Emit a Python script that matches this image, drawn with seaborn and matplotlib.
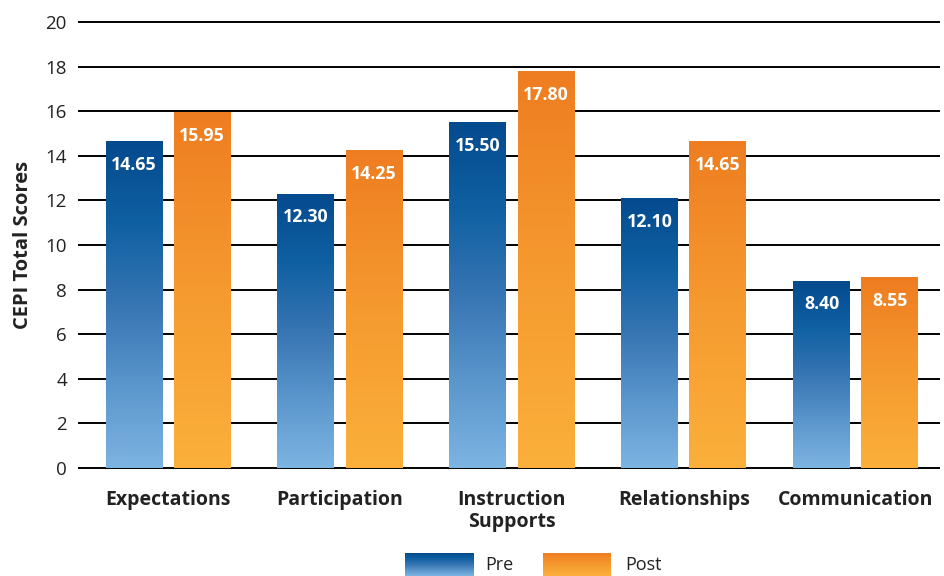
import numpy as np
import pandas as pd
import matplotlib
matplotlib.use("Agg")
import matplotlib.pyplot as plt
from matplotlib.colors import LinearSegmentedColormap
import seaborn as sns

categories = ["Expectations", "Participation", "Instruction\nSupports", "Relationships", "Communication"]
pre_values = [14.65, 12.30, 15.50, 12.10, 8.40]
post_values = [15.95, 14.25, 17.80, 14.65, 8.55]
series_names = ["Pre", "Post"]
y_ticks = [0, 2, 4, 6, 8, 10, 12, 14, 16, 18, 20]

df = pd.DataFrame({
    "category": categories * 2,
    "value": pre_values + post_values,
    "series": [series_names[0]] * len(categories) + [series_names[1]] * len(categories),
})

sns.set_theme(style="white")
plt.rcParams["font.family"] = ["Open Sans", "DejaVu Sans"]

blue_cmap = LinearSegmentedColormap.from_list(
    "blue", [(0.0, "#7cb4e2"), (0.25, "#5b96cc"), (0.5, "#3775b3"), (0.75, "#0f60a2"), (1.0, "#044a8e")])
orange_cmap = LinearSegmentedColormap.from_list(
    "orange", [(0.0, "#fbb03b"), (0.5, "#f59a2f"), (1.0, "#ee7d21")])
cmaps = {"Pre": blue_cmap, "Post": orange_cmap}

fig = plt.figure(figsize=(9.44, 5.76), dpi=100)
ax = fig.add_axes([78 / 944, 1 - 469 / 576, (940 - 78) / 944, (469 - 21) / 576])

sns.barplot(data=df, x="category", y="value", hue="series", hue_order=series_names,
            order=categories, palette=["#0d5ea3", "#f49a2e"], width=0.792, gap=0.167,
            legend=False, ax=ax, zorder=2, errorbar=None)

ylo, yhi = -0.05, 20.05
grad = np.linspace(1, 0, 256).reshape(-1, 1)
n = len(categories)
for i, bar in enumerate(ax.patches):
    s = series_names[i // n]
    x, w, h = bar.get_x(), bar.get_width(), bar.get_height()
    bar.set_facecolor("none")
    bar.set_edgecolor("none")
    im = ax.imshow(grad, extent=[x, x + w, 0, h], origin="upper", aspect="auto",
                   cmap=cmaps[s], vmin=0, vmax=1, zorder=2, interpolation="bilinear")
    im.set_clip_path(bar)
    ax.text(x + w / 2, h - 1.05, f"{h:.2f}", ha="center", va="center", color="white",
            fontsize=12.8, fontweight="bold", zorder=3)

ax.set_xlim(-0.523, 4.49)
ax.set_ylim(ylo, yhi)
ax.set_yticks(y_ticks)
ax.set_yticklabels([str(t) for t in y_ticks])
ax.yaxis.grid(True, color="black", linewidth=1.4)
ax.xaxis.grid(False)
ax.set_axisbelow(True)
for sp in ax.spines.values():
    sp.set_visible(False)
ax.tick_params(axis="y", length=0, pad=8, labelsize=13.5, colors="#222222")
ax.tick_params(axis="x", length=0, pad=15, labelsize=14)
for lbl in ax.get_xticklabels():
    lbl.set_fontweight("bold")
    lbl.set_color("#222222")
    lbl.set_linespacing(1.12)
ax.set_xlabel("")
ax.set_ylabel("CEPI Total Scores", fontsize=14.5, fontweight="bold", color="#222222", labelpad=9)

# legend with gradient swatches
leg_items = [("Pre", 405, 485), ("Post", 543, 625)]
for name, sx, tx in leg_items:
    lax = fig.add_axes([sx / 944, 0, 68 / 944, 23 / 576])
    lax.imshow(grad, aspect="auto", cmap=cmaps[name], vmin=0, vmax=1, extent=[0, 1, 0, 1],
               origin="upper")
    lax.set_axis_off()
    fig.text(tx / 944, 1 - 565 / 576, name, fontsize=13, va="center", ha="left", color="#222222")

fig.savefig("out.png", dpi=100)
